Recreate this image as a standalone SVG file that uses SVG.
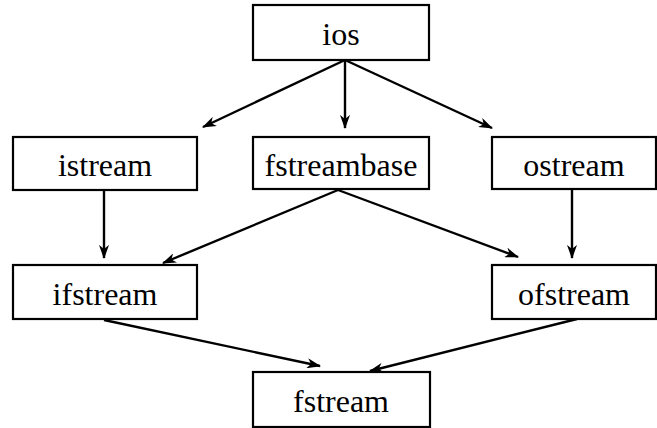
<svg xmlns="http://www.w3.org/2000/svg" width="657" height="428" viewBox="0 0 657 428">
<defs>
<style>
.box{fill:#fff;stroke:#000;stroke-width:2.2}
.lbl{font-family:"Liberation Serif","Times New Roman",serif;font-size:32px;fill:#000;text-anchor:middle}
.edge{stroke:#000;stroke-width:2.4;fill:none;marker-end:url(#ah)}
</style>
<marker id="ah" viewBox="0 0 14 10" refX="13" refY="5" markerWidth="6" markerHeight="4.2" orient="auto" markerUnits="strokeWidth">
<path d="M0,0 L14,5 L0,10 L4,5 Z" fill="#000"/>
</marker>
</defs>
<rect width="657" height="428" fill="#fff"/>
<g id="connectors">
<line class="edge" x1="345" y1="60" x2="203" y2="127"/>
<line class="edge" x1="345" y1="60" x2="345" y2="128"/>
<line class="edge" x1="345" y1="60" x2="492" y2="128"/>
<line class="edge" x1="104" y1="190" x2="104" y2="258"/>
<line class="edge" x1="338" y1="190" x2="163" y2="263"/>
<line class="edge" x1="338" y1="190" x2="518" y2="257"/>
<line class="edge" x1="572" y1="190" x2="572" y2="258"/>
<line class="edge" x1="104" y1="320" x2="320" y2="366"/>
<line class="edge" x1="577" y1="319" x2="370" y2="371"/>
</g>
<g id="ios"><rect class="box" x="253" y="5" width="176" height="55"/><text class="lbl" x="341" y="45">ios</text></g>
<g id="istream"><rect class="box" x="13" y="137" width="184" height="53"/><text class="lbl" x="105" y="176">istream</text></g>
<g id="fstreambase"><rect class="box" x="253" y="137" width="176" height="52"/><text class="lbl" x="341" y="176">fstreambase</text></g>
<g id="ostream"><rect class="box" x="492" y="137" width="164" height="52"/><text class="lbl" x="574" y="176">ostream</text></g>
<g id="ifstream"><rect class="box" x="13" y="265" width="184" height="54"/><text class="lbl" x="105" y="305">ifstream</text></g>
<g id="ofstream"><rect class="box" x="492" y="265" width="164" height="54"/><text class="lbl" x="574" y="305">ofstream</text></g>
<g id="fstream"><rect class="box" x="253" y="372" width="177" height="55"/><text class="lbl" x="341" y="412">fstream</text></g>
</svg>
